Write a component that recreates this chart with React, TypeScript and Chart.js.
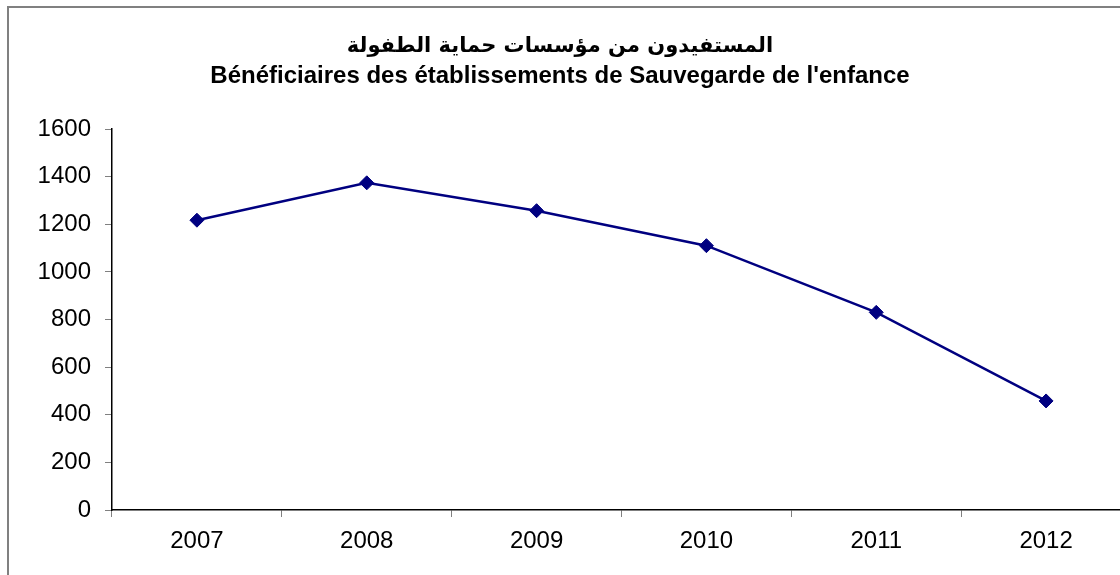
import React, { useEffect, useRef } from "react";
import { Chart, registerables } from "chart.js";

Chart.register(...registerables);

const categories: string[] = ["2007", "2008", "2009", "2010", "2011", "2012"];
const beneficiaries: number[] = [1217, 1374, 1257, 1110, 830, 458];
const titleArabic = "المستفيدون من مؤسسات حماية الطفولة";
const titleFrench = "Bénéficiaires des établissements de Sauvegarde de l'enfance";

const FONT = "'Liberation Sans', Arial, 'DejaVu Sans', sans-serif";

export default function App() {
  const ref = useRef<HTMLCanvasElement | null>(null);

  useEffect(() => {
    if (!ref.current) return;
    const titlePlugin = {
      id: "twoLineTitle",
      afterDraw(chart: any) {
        const ctx = chart.ctx;
        ctx.save();
        ctx.fillStyle = "#000";
        ctx.textAlign = "center";
        ctx.textBaseline = "middle";
        ctx.font = "bold 21px 'DejaVu Sans', " + FONT;
        ctx.fillText(titleArabic, 551, 39);
        ctx.font = "bold 24px " + FONT;
        ctx.fillText(titleFrench, 551, 68);
        ctx.restore();
      },
    };
    const chart = new Chart(ref.current, {
      type: "line",
      data: {
        labels: categories,
        datasets: [
          {
            data: beneficiaries,
            borderColor: "#000080",
            backgroundColor: "#000080",
            borderWidth: 2.5,
            pointStyle: "rectRot",
            pointRadius: 7,
            pointBackgroundColor: "#000080",
            pointBorderColor: "#000080",
            pointBorderWidth: 1,
            tension: 0,
            fill: false,
          },
        ],
      },
      options: {
        responsive: false,
        animation: false,
        layout: { padding: { top: 121, bottom: 38, left: 0, right: 0 } },
        plugins: {
          legend: { display: false },
          title: { display: false },
          tooltip: { enabled: false },
        },
        scales: {
          x: {
            type: "category",
            offset: true,
            grid: {
              offset: true,
              drawOnChartArea: false,
              tickLength: 7,
              color: "#808080",
            },
            border: { display: true, color: "#000", width: 1.5 },
            ticks: {
              font: { family: FONT, size: 24 },
              color: "#000",
              padding: 10,
              maxRotation: 0,
            },
            afterFit: (s: any) => {
              s.height = 60;
            },
          },
          y: {
            min: 0,
            max: 1600,
            grid: {
              drawOnChartArea: false,
              tickLength: 7,
              color: "#808080",
            },
            border: { display: true, color: "#000", width: 1.5 },
            ticks: {
              stepSize: 200,
              font: { family: FONT, size: 24 },
              color: "#000",
              padding: 14,
              callback: (v: any) => String(v),
            },
            afterFit: (s: any) => {
              s.width = 103;
            },
          },
        },
      },
      plugins: [titlePlugin],
    } as any);
    return () => chart.destroy();
  }, []);

  return (
    <div
      style={{
        position: "fixed",
        left: 0,
        top: 0,
        width: 1120,
        height: 575,
        overflow: "hidden",
        background: "#fff",
      }}
    >
      <div
        style={{
          position: "absolute",
          left: 7,
          top: 6,
          width: 1160,
          height: 620,
          border: "2px solid #808080",
          boxSizing: "border-box",
        }}
      >
        <canvas
          ref={ref}
          width={1130}
          height={600}
          style={{ position: "absolute", left: 0, top: 0, width: 1130, height: 600 }}
        />
      </div>
    </div>
  );
}
